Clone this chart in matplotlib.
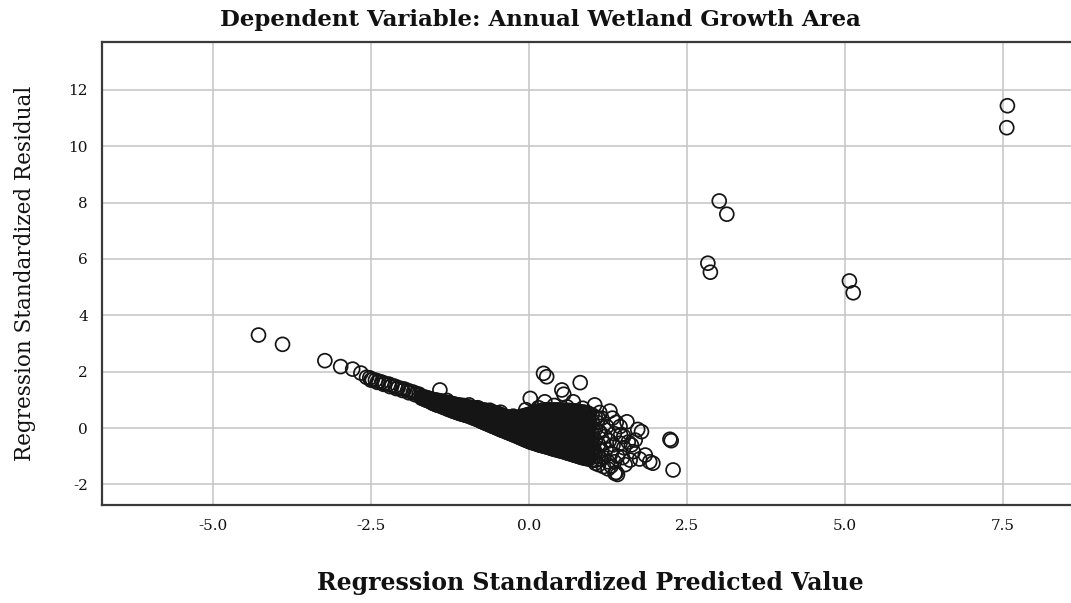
import matplotlib
matplotlib.use("Agg")
import matplotlib.pyplot as plt

# ---- isolated / outlying cases (predicted, residual) ----
outlier_x = [7.57, 7.56, 3.01, 3.13, 2.83, 2.87, 5.07, 5.13,
             -4.28, -3.90, -3.23, -2.98, -2.79, -2.66]
outlier_y = [11.44, 10.66, 8.06, 7.59, 5.85, 5.53, 5.22, 4.80,
             3.30, 2.97, 2.39, 2.18, 2.09, 1.95]

# ---- thin left tail of the main band ----
tail_x = [-2.57, -2.52, -2.48, -2.43, -2.38, -2.33, -2.28, -2.22, -2.17,
          -2.12, -2.07, -2.02, -1.97, -1.92, -1.88, -1.83, -1.78, -1.74,
          -2.50, -2.40, -2.30, -2.20, -2.10, -2.00, -1.90, -1.80]
tail_y = [1.80, 1.78, 1.72, 1.70, 1.66, 1.63, 1.58, 1.56, 1.51,
          1.48, 1.43, 1.40, 1.38, 1.33, 1.30, 1.27, 1.22, 1.20,
          1.70, 1.62, 1.55, 1.47, 1.40, 1.33, 1.25, 1.18]

# ---- dense band: predicted value column -> residuals read in that column ----
band_x = [-1.70, -1.65, -1.60, -1.55, -1.50, -1.45, -1.40, -1.35, -1.30, -1.25,
          -1.20, -1.15, -1.10, -1.05, -1.00, -0.95, -0.90, -0.85, -0.80, -0.75,
          -0.70, -0.65, -0.60, -0.55, -0.50, -0.45, -0.40, -0.35, -0.30, -0.25,
          -0.20, -0.15, -0.10, -0.05, 0.00, 0.05, 0.10, 0.15, 0.20, 0.25,
          0.30, 0.35, 0.40, 0.45, 0.50, 0.55, 0.60, 0.65, 0.70, 0.75,
          0.80, 0.85, 0.90, 0.95, 1.00, 1.05, 1.10]
band_y = [
    [1.12, 1.06], [1.10, 1.02], [1.07, 0.97], [1.03, 0.92], [1.00, 0.92, 0.86],
    [0.98, 0.89, 0.81], [0.96, 0.87, 0.78], [0.93, 0.84, 0.73], [0.90, 0.80, 0.69],
    [0.88, 0.77, 0.65], [0.86, 0.76, 0.67, 0.60], [0.83, 0.74, 0.64, 0.56],
    [0.81, 0.71, 0.61, 0.52], [0.79, 0.69, 0.58, 0.49], [0.76, 0.66, 0.55, 0.45],
    [0.74, 0.64, 0.53, 0.42], [0.72, 0.61, 0.49, 0.37], [0.70, 0.59, 0.46, 0.33],
    [0.68, 0.56, 0.43, 0.29], [0.65, 0.54, 0.42, 0.32, 0.23],
    [0.63, 0.52, 0.40, 0.29, 0.18], [0.61, 0.49, 0.37, 0.25, 0.14],
    [0.58, 0.47, 0.34, 0.21, 0.09], [0.55, 0.44, 0.32, 0.18, 0.04],
    [0.51, 0.40, 0.28, 0.15, 0.05, -0.01], [0.47, 0.36, 0.25, 0.13, 0.02, -0.06],
    [0.42, 0.31, 0.20, 0.09, -0.02, -0.10], [0.39, 0.28, 0.16, 0.05, -0.06, -0.15],
    [0.35, 0.25, 0.13, 0.01, -0.09, -0.19], [0.33, 0.22, 0.10, -0.01, -0.13, -0.24],
    [0.34, 0.20, 0.08, -0.05, -0.17, -0.28],
    [0.37, 0.22, 0.09, -0.04, -0.16, -0.27, -0.33],
    [0.40, 0.24, 0.11, -0.02, -0.14, -0.26, -0.38],
    [0.44, 0.25, 0.12, -0.01, -0.15, -0.29, -0.43],
    [0.48, 0.27, 0.14, 0.01, -0.12, -0.25, -0.37, -0.48],
    [0.52, 0.30, 0.17, 0.03, -0.10, -0.24, -0.38, -0.51],
    [0.56, 0.34, 0.20, 0.06, -0.08, -0.22, -0.36, -0.47, -0.55],
    [0.60, 0.38, 0.24, 0.10, -0.05, -0.19, -0.33, -0.46, -0.59],
    [0.63, 0.41, 0.27, 0.12, -0.03, -0.17, -0.31, -0.46, -0.62],
    [0.64, 0.40, 0.26, 0.11, -0.04, -0.19, -0.34, -0.50, -0.65],
    [0.65, 0.42, 0.27, 0.12, -0.03, -0.19, -0.36, -0.52, -0.68],
    [0.64, 0.41, 0.25, 0.10, -0.06, -0.22, -0.39, -0.56, -0.72],
    [0.64, 0.40, 0.24, 0.08, -0.08, -0.25, -0.42, -0.59, -0.75],
    [0.64, 0.38, 0.22, 0.05, -0.11, -0.28, -0.45, -0.62, -0.78],
    [0.63, 0.37, 0.21, 0.04, -0.13, -0.30, -0.47, -0.64, -0.81],
    [0.63, 0.39, 0.22, 0.04, -0.14, -0.31, -0.49, -0.67, -0.84],
    [0.62, 0.37, 0.19, 0.01, -0.17, -0.35, -0.53, -0.71, -0.88],
    [0.62, 0.36, 0.18, 0.00, -0.18, -0.37, -0.55, -0.73, -0.91],
    [0.61, 0.35, 0.16, -0.03, -0.21, -0.40, -0.58, -0.77, -0.95],
    [0.60, 0.33, 0.14, -0.05, -0.24, -0.43, -0.61, -0.80, -0.98],
    [0.58, 0.31, 0.12, -0.07, -0.26, -0.45, -0.64, -0.83, -1.02],
    [0.56, 0.30, 0.10, -0.09, -0.28, -0.47, -0.67, -0.86, -1.05],
    [0.54, 0.28, 0.08, -0.12, -0.32, -0.51, -0.70, -0.89, -1.08],
    [0.50, 0.26, 0.06, -0.14, -0.34, -0.53, -0.73, -0.92, -1.10],
    [0.46, 0.22, 0.02, -0.18, -0.38, -0.58, -0.77, -0.96, -1.13],
    [0.38, -0.04, -0.45, -0.86, -1.15],
    [0.33, -0.13, -0.58, -1.00],
]

# ---- dense band, in-between columns ----
band2_x = [-1.675, -1.625, -1.575, -1.525, -1.475, -1.425, -1.375, -1.325, -1.275, -1.225,
           -1.175, -1.125, -1.075, -1.025, -0.975, -0.925, -0.875, -0.825, -0.775, -0.725,
           -0.675, -0.625, -0.575, -0.525, -0.475, -0.425, -0.375, -0.325, -0.275, -0.225,
           -0.175, -0.125, -0.075, -0.025, 0.025, 0.075, 0.125, 0.175, 0.225, 0.275,
           0.325, 0.375, 0.425, 0.475, 0.525, 0.575, 0.625, 0.675, 0.725, 0.775,
           0.825, 0.875, 0.925]
band2_y = [
    [1.09, 1.04], [1.05, 0.99], [1.03, 0.95], [1.01, 0.94, 0.88], [0.99, 0.90, 0.84],
    [0.97, 0.88, 0.80], [0.94, 0.85, 0.76], [0.92, 0.82, 0.72], [0.89, 0.80, 0.70, 0.66],
    [0.87, 0.78, 0.70, 0.62], [0.84, 0.75, 0.66, 0.58], [0.82, 0.73, 0.63, 0.54],
    [0.80, 0.70, 0.60, 0.50], [0.77, 0.68, 0.57, 0.47], [0.75, 0.65, 0.54, 0.44],
    [0.73, 0.62, 0.51, 0.40], [0.71, 0.60, 0.48, 0.36], [0.69, 0.58, 0.46, 0.36, 0.31],
    [0.67, 0.56, 0.45, 0.36, 0.26], [0.64, 0.53, 0.44, 0.34, 0.24, 0.21],
    [0.62, 0.51, 0.41, 0.30, 0.20, 0.16], [0.60, 0.49, 0.38, 0.27, 0.17, 0.11],
    [0.57, 0.46, 0.36, 0.25, 0.14, 0.06], [0.54, 0.43, 0.33, 0.22, 0.10, 0.02],
    [0.50, 0.39, 0.29, 0.19, 0.08, -0.03], [0.45, 0.35, 0.25, 0.14, 0.03, -0.08],
    [0.41, 0.31, 0.21, 0.10, 0.00, -0.12], [0.38, 0.28, 0.18, 0.07, -0.04, -0.17],
    [0.36, 0.26, 0.16, 0.05, -0.07, -0.21], [0.36, 0.26, 0.14, 0.02, -0.10, -0.26],
    [0.38, 0.27, 0.15, 0.03, -0.10, -0.22, -0.31],
    [0.41, 0.30, 0.17, 0.04, -0.08, -0.20, -0.32, -0.36],
    [0.44, 0.31, 0.18, 0.05, -0.08, -0.22, -0.35, -0.41],
    [0.47, 0.33, 0.20, 0.07, -0.06, -0.19, -0.32, -0.45],
    [0.50, 0.36, 0.21, 0.08, -0.05, -0.18, -0.31, -0.44, -0.50],
    [0.54, 0.40, 0.25, 0.12, -0.02, -0.16, -0.30, -0.43, -0.54],
    [0.58, 0.43, 0.28, 0.14, 0.00, -0.14, -0.28, -0.42, -0.57],
    [0.61, 0.46, 0.32, 0.17, 0.02, -0.12, -0.26, -0.40, -0.53, -0.61],
    [0.63, 0.48, 0.33, 0.18, 0.03, -0.11, -0.26, -0.41, -0.56, -0.64],
    [0.64, 0.49, 0.34, 0.19, 0.04, -0.11, -0.27, -0.43, -0.59, -0.67],
    [0.64, 0.49, 0.33, 0.18, 0.02, -0.14, -0.30, -0.46, -0.62, -0.70],
    [0.63, 0.47, 0.32, 0.16, 0.00, -0.16, -0.33, -0.50, -0.66, -0.74],
    [0.63, 0.46, 0.30, 0.13, -0.03, -0.19, -0.36, -0.53, -0.69, -0.77],
    [0.63, 0.46, 0.29, 0.12, -0.04, -0.21, -0.38, -0.55, -0.72, -0.80],
    [0.63, 0.46, 0.29, 0.12, -0.05, -0.22, -0.40, -0.57, -0.75, -0.83],
    [0.63, 0.46, 0.28, 0.10, -0.08, -0.26, -0.44, -0.62, -0.79, -0.86],
    [0.62, 0.45, 0.27, 0.09, -0.09, -0.27, -0.46, -0.64, -0.82, -0.90],
    [0.61, 0.44, 0.25, 0.07, -0.12, -0.30, -0.49, -0.67, -0.86, -0.93],
    [0.60, 0.43, 0.24, 0.05, -0.14, -0.33, -0.52, -0.71, -0.89, -0.97],
    [0.58, 0.41, 0.22, 0.03, -0.16, -0.35, -0.54, -0.73, -0.92, -1.00],
    [0.57, 0.40, 0.20, 0.01, -0.18, -0.38, -0.57, -0.76, -0.95, -1.04],
    [0.56, 0.38, 0.19, -0.01, -0.20, -0.40, -0.60, -0.79, -0.98, -1.07],
    [0.54, 0.36, 0.17, -0.03, -0.23, -0.43, -0.62, -0.82, -1.01, -1.09],
]

# ---- scattered cases around the band ----
scatter_x = [1.04, 1.28, 1.15, 1.23, 1.20, 1.18, 1.15, 1.18, 1.18, 1.25,
             1.30, 1.33, 1.35, 1.38, 1.44, 1.44, 1.40, 1.36, 1.40, 1.38,
             1.50, 1.55, 1.52, 1.60, 1.65, 1.68, 1.72, 1.78, 1.84, 1.91,
             1.75, 1.62, 1.50, 1.30, 1.10, 1.05, 2.23, 2.25, 2.28, 1.96,
             0.02, 0.25, 0.23, 0.28, 0.81, 0.52, 0.55, 0.70, 0.40, 0.60,
             0.85, -0.05, 0.15, -1.41, -1.04, -0.81, -0.62,
             1.12, 1.22, 1.27, 1.32, 1.45, 1.48, 1.57, 1.12, 1.35, 1.25,
             1.08, 1.14, 1.02, -1.30, -0.95, -0.45, -0.25]
scatter_y = [0.82, 0.60, 0.35, 0.05, -0.30, -0.54, -0.80, -1.05, -1.37, -1.20,
             -0.90, -0.60, -0.20, 0.20, 0.05, -0.54, -1.00, -1.61, -1.65, -1.58,
             -0.30, 0.22, -1.30, -1.14, -0.84, -0.43, -0.05, -0.13, -0.96, -1.20,
             -1.10, -0.60, -0.70, -1.35, -1.30, -1.25, -0.40, -0.45, -1.49, -1.25,
             1.05, 0.93, 1.94, 1.82, 1.61, 1.35, 1.20, 0.93, 0.80, 0.75,
             0.70, 0.65, 0.72, 1.35, 0.80, 0.72, 0.63,
             -0.15, -0.75, -0.45, 0.35, -0.25, -1.05, -0.50, 0.55, -1.20, -1.45,
             0.20, -1.10, -0.70, 0.98, 0.82, 0.56, 0.42]

x_ticks = [-5.0, -2.5, 0.0, 2.5, 5.0, 7.5]
y_ticks = [-2, 0, 2, 4, 6, 8, 10, 12]

# expand the band columns
bx, by = [], []
for cols_x, cols_y in ((band_x, band_y), (band2_x, band2_y)):
    for xv, ys in zip(cols_x, cols_y):
        for yv in ys:
            bx.append(xv)
            by.append(yv)

px = outlier_x + tail_x + bx + scatter_x
py = outlier_y + tail_y + by + scatter_y

W, H = 1071, 603
fig = plt.figure(figsize=(W / 100, H / 100), dpi=100)
fig.patch.set_facecolor("white")

left, right, top, bottom = 102, 1076, 42, 505
ax = fig.add_axes([left / W, 1 - bottom / H, (right - left) / W, (bottom - top) / H])

ax.scatter(px, py, s=100, facecolors="none", edgecolors="#151515", linewidths=1.25, zorder=3)

ax.set_xlim((left - 529) / 63.2, (right - 529) / 63.2)
ax.set_ylim(-(bottom - 428) / 28.17, (428 - top) / 28.17)
ax.set_xticks(x_ticks)
ax.set_xticklabels([f"{v:.1f}" for v in x_ticks])
ax.set_yticks(y_ticks)
ax.set_yticklabels([str(v) for v in y_ticks])

ax.grid(True, color="#c8c8c8", linewidth=1.2, zorder=0)
ax.set_axisbelow(True)
ax.tick_params(length=0, pad=10, labelsize=11, colors="#111111")
for lab in ax.get_xticklabels() + ax.get_yticklabels():
    lab.set_fontfamily("DejaVu Serif")
for side in ["left", "top", "bottom"]:
    ax.spines[side].set_color("#3a3a3a")
    ax.spines[side].set_linewidth(1.6)
ax.spines["right"].set_visible(False)

fig.text(540 / W, 1 - 20 / H, "Dependent Variable: Annual Wetland Growth Area",
         ha="center", va="center", fontsize=16.5, fontweight="bold",
         family="DejaVu Serif", color="#111111")
fig.text(590 / W, 1 - 583 / H, "Regression Standardized Predicted Value",
         ha="center", va="center", fontsize=17, fontweight="bold",
         family="DejaVu Serif", color="#111111")
fig.text(25 / W, 1 - 273 / H, "Regression Standardized Residual",
         ha="center", va="center", rotation=90, fontsize=15.5,
         family="DejaVu Serif", color="#111111")

fig.savefig("out.png", dpi=100)
